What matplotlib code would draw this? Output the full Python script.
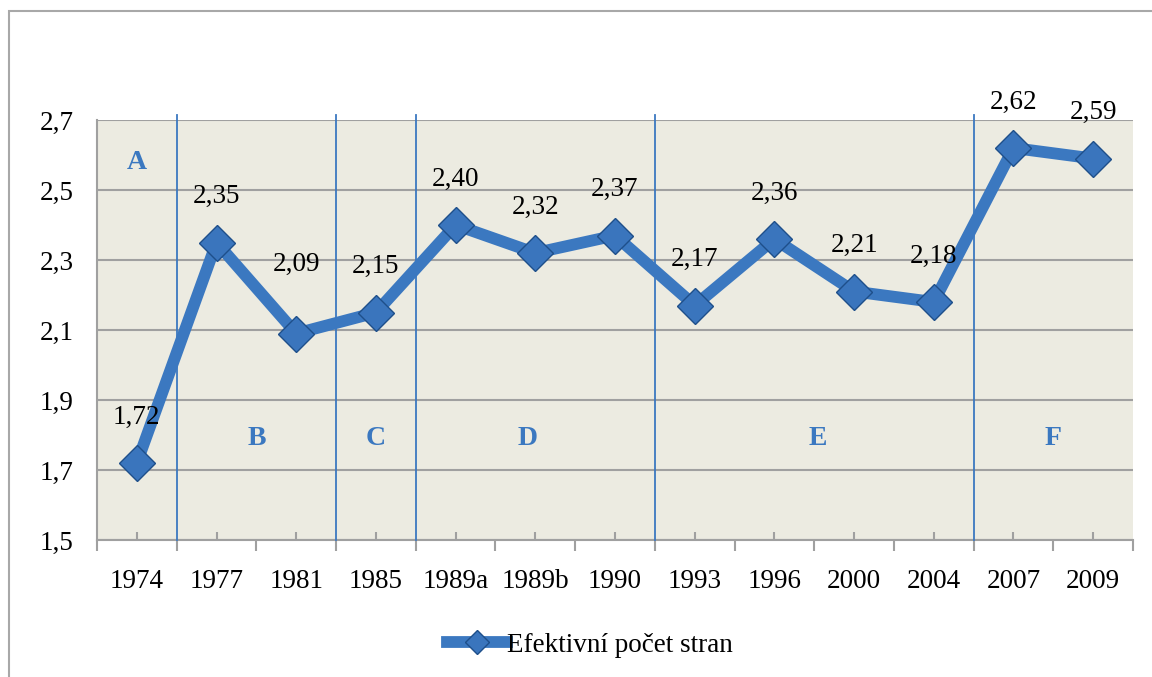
import matplotlib.pyplot as plt
from matplotlib.patches import Rectangle
from matplotlib.ticker import FixedLocator

roky = ['1974', '1977', '1981', '1985', '1989a', '1989b', '1990',
        '1993', '1996', '2000', '2004', '2007', '2009']
hodnoty = [1.72, 2.35, 2.09, 2.15, 2.40, 2.32, 2.37,
           2.17, 2.36, 2.21, 2.18, 2.62, 2.59]
popisky = ['1,72', '2,35', '2,09', '2,15', '2,40', '2,32', '2,37',
           '2,17', '2,36', '2,21', '2,18', '2,62', '2,59']
obdobi = ['A', 'B', 'C', 'D', 'E', 'F']
hranice = [0.5, 2.5, 3.5, 6.5, 10.5]
stredy_obdobi = [0.0, 1.5, 3.0, 4.9, 8.55, 11.5]
y_obdobi = [2.58, 1.79, 1.79, 1.79, 1.79, 1.79]

modra = '#3B78C0'
plt.rcParams['font.family'] = ['Liberation Serif', 'DejaVu Serif']

fig = plt.figure(figsize=(11.52, 6.77), dpi=100)
ax = fig.add_axes([97/1152, 137/677, 1036/1152, 420/677])
ax.set_facecolor('#ECEBE1')

x = list(range(len(roky)))
ax.plot(x, hodnoty, color=modra, lw=8.5, marker='D', ms=18,
        markerfacecolor='#3A75BD', markeredgecolor='#1E4F8A', markeredgewidth=1,
        solid_joinstyle='miter', label='Efektivní počet stran', zorder=4)

for xi, v, t in zip(x, hodnoty, popisky):
    # 2,09 sedí v originále výš
    dy = 50 if t == '2,09' else 33
    ax.annotate(t, (xi, v), xytext=(0, dy), textcoords='offset points',
                ha='center', va='center', fontsize=19.5, zorder=5)

for h in hranice:
    ax.plot([h, h], [1.5, 2.715], color=modra, lw=1.3, zorder=3, clip_on=False)

for p, xs, ys in zip(obdobi, stredy_obdobi, y_obdobi):
    ax.text(xs, ys, p, color=modra, fontsize=20, fontweight='bold',
            ha='center', va='center', zorder=3)

ax.set_xlim(-0.5, len(roky) - 0.5)
ax.set_ylim(1.5, 2.7)
ax.set_yticks([1.5, 1.7, 1.9, 2.1, 2.3, 2.5, 2.7])
ax.set_yticklabels(['1,5', '1,7', '1,9', '2,1', '2,3', '2,5', '2,7'], fontsize=19.5)
ax.yaxis.grid(True, color='#A0A0A0', lw=1.5)
ax.set_axisbelow(True)

ax.xaxis.set_major_locator(FixedLocator([i - 0.5 for i in range(len(roky) + 1)]))
ax.xaxis.set_minor_locator(FixedLocator(x))
ax.set_xticklabels([''] * (len(roky) + 1))
ax.set_xticklabels(roky, minor=True, fontsize=19.5)
ax.tick_params(axis='x', which='major', direction='out', length=8, color='#A0A0A0', width=1.5)
ax.tick_params(axis='x', which='minor', direction='in', length=6, color='#A0A0A0',
               width=1.5, pad=21)
ax.tick_params(axis='y', length=0, pad=17)

for s in ['top', 'right']:
    ax.spines[s].set_visible(False)
for s in ['left', 'bottom']:
    ax.spines[s].set_color('#A0A0A0')
    ax.spines[s].set_linewidth(1.5)

fig.patches.append(Rectangle((9/1152, -0.1), 1.2, 1.1 - 11/677, transform=fig.transFigure,
                             fill=False, edgecolor='#A8A8A8', lw=1.5))

ax.legend(loc='center', bbox_to_anchor=(590/1152, 32/677), bbox_transform=fig.transFigure,
          frameon=False, fontsize=19.5, handlelength=2.2, handletextpad=0.0, markerscale=0.7)

fig.savefig('out.png', dpi=100)
